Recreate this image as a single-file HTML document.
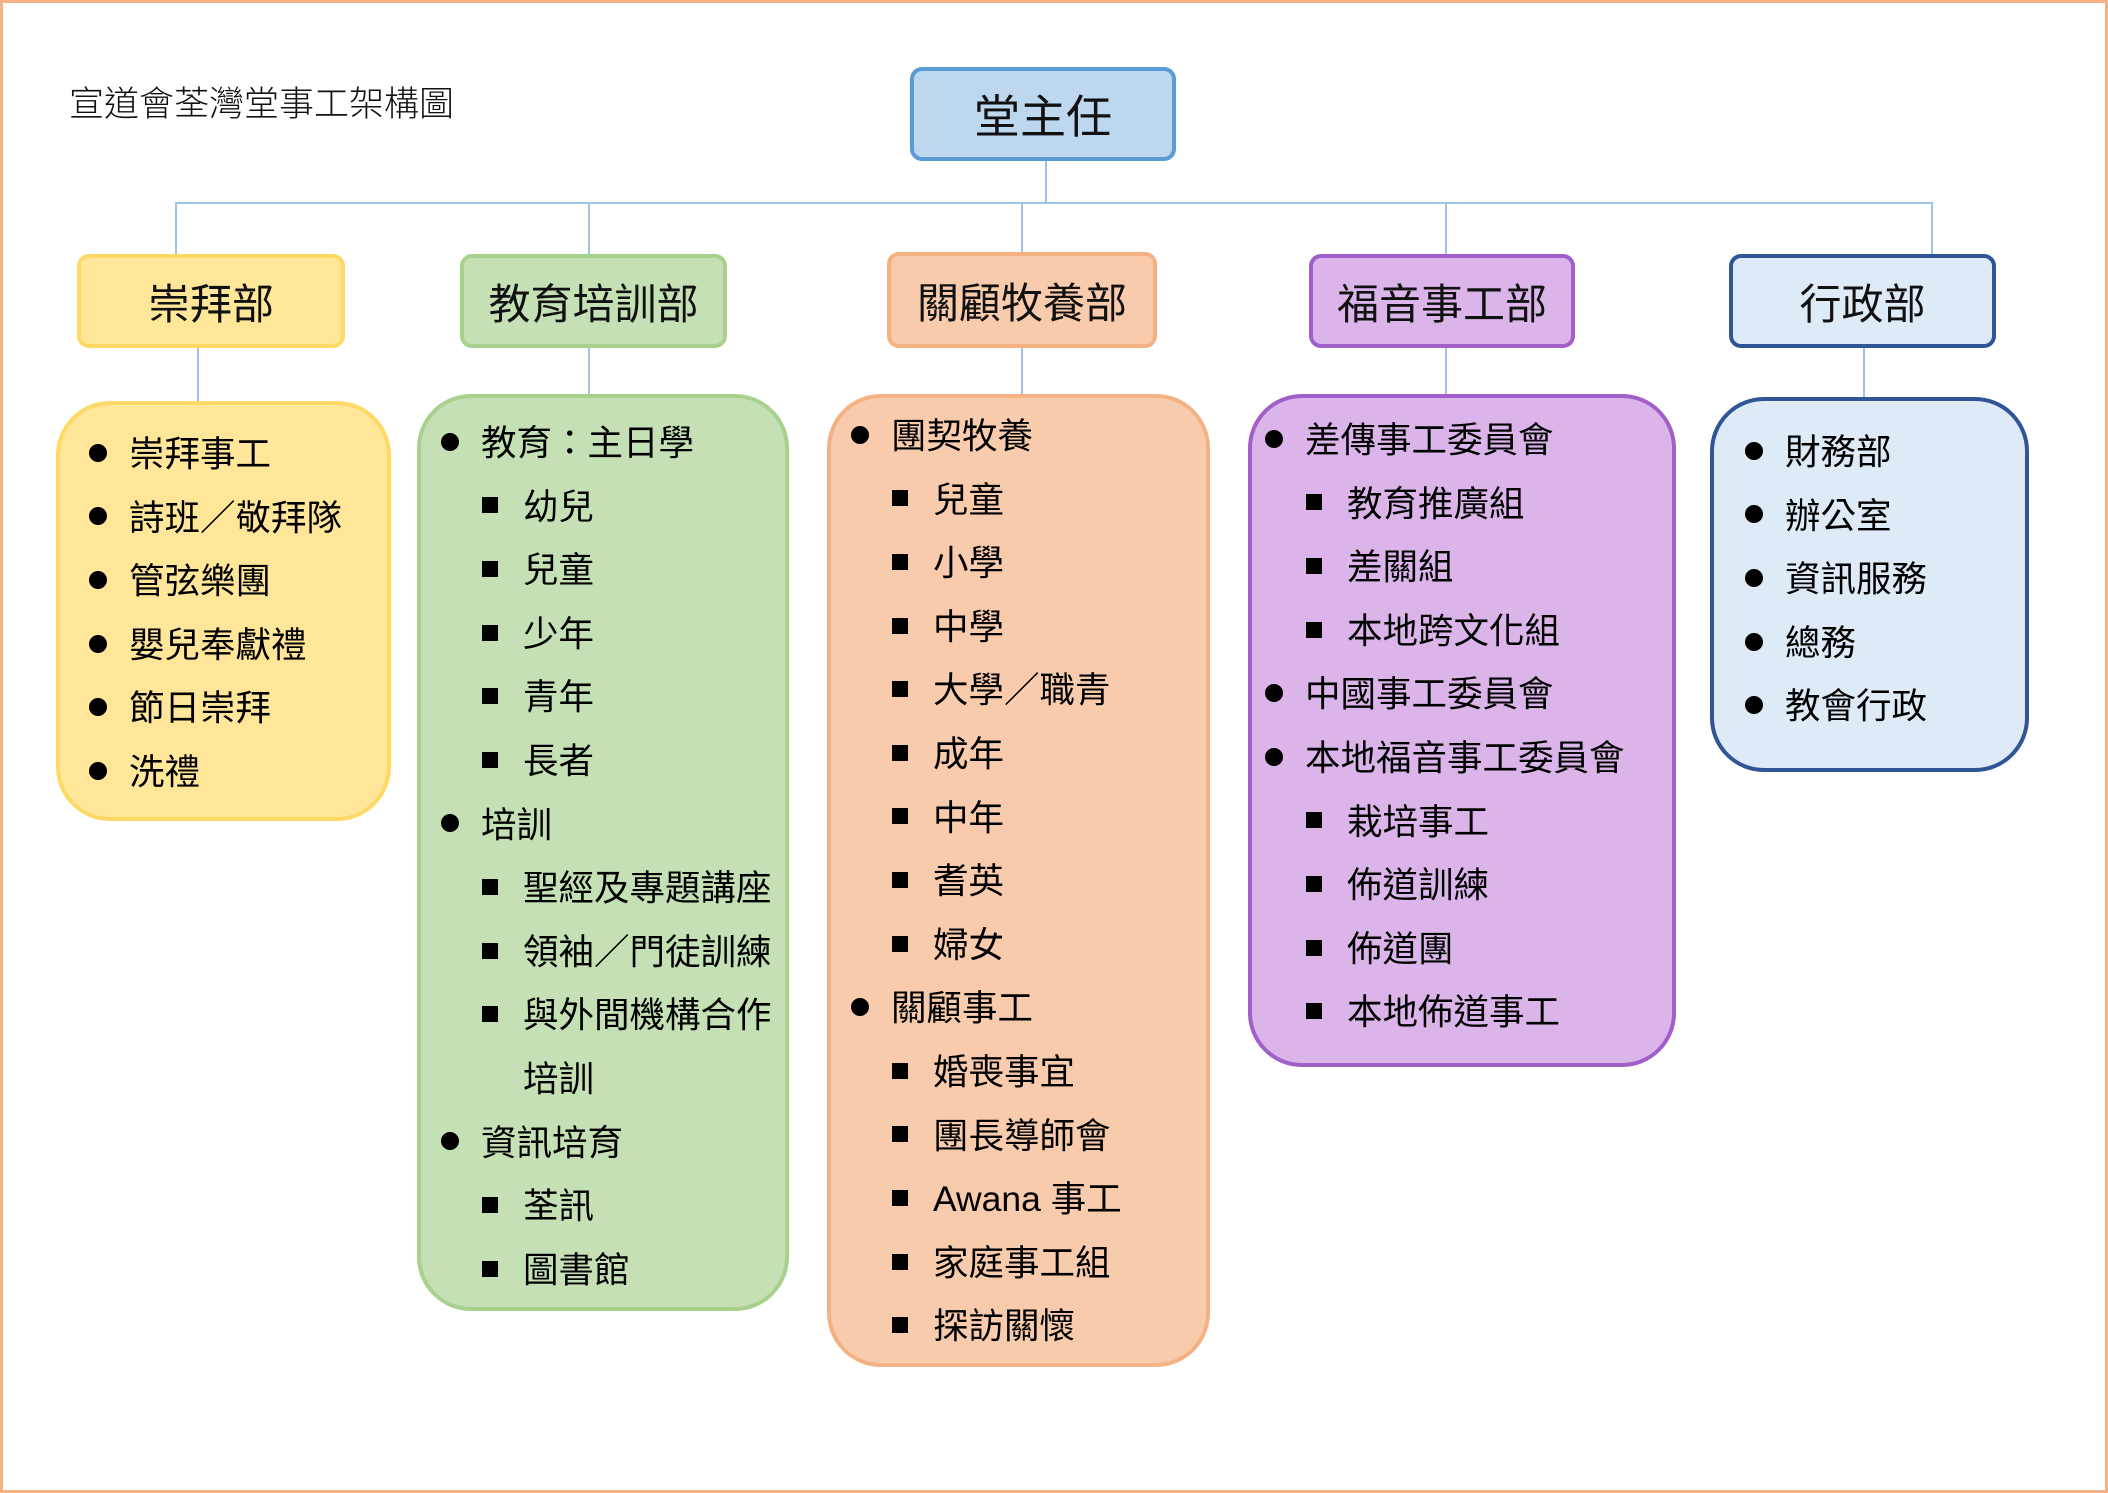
<!DOCTYPE html>
<html><head><meta charset="utf-8"><style>
body{margin:0;width:2108px;height:1493px;overflow:hidden;background:#fff;font-family:"Liberation Sans","Noto Sans CJK TC",sans-serif;}
.frame{position:absolute;left:0;top:0;width:2102px;height:1487px;border:3px solid #f4b183;}
.box{position:absolute;box-sizing:border-box;display:flex;align-items:center;justify-content:center;color:#111;}
.hd{border-width:4px;border-style:solid;border-radius:12px;font-size:42px;}
.bd{border-width:4px;border-style:solid;border-radius:54px;}
.ln{position:absolute;background:#9dc3e6;}
.col{position:absolute;font-size:35.5px;color:#000;}
.l{position:relative;height:63.6px;line-height:63.6px;white-space:nowrap;}
.l i{position:absolute;top:50%;margin-top:-11px;width:18px;height:18px;border-radius:50%;background:#000;left:0;}
.l.s i{left:41px;border-radius:0;width:16px;height:16px;margin-top:-10px;}
.l span{position:absolute;left:40px;top:0;}
.l.s span{left:82px;}
</style></head><body>
<div class="frame"></div>
<div style="position:absolute;left:69px;top:76px;font-size:35px;font-weight:300;color:#111;">宣道會荃灣堂事工架構圖</div>

<div class="ln" style="left:1045px;top:161px;width:2px;height:43px"></div>
<div class="ln" style="left:175px;top:202px;width:1758px;height:2px"></div>
<div class="ln" style="left:175px;top:202px;width:2px;height:52px"></div>
<div class="ln" style="left:588px;top:202px;width:2px;height:52px"></div>
<div class="ln" style="left:1021px;top:202px;width:2px;height:52px"></div>
<div class="ln" style="left:1445px;top:202px;width:2px;height:52px"></div>
<div class="ln" style="left:1931px;top:202px;width:2px;height:52px"></div>
<div class="ln" style="left:197px;top:348px;width:2px;height:53px"></div>
<div class="ln" style="left:588px;top:348px;width:2px;height:46px"></div>
<div class="ln" style="left:1021px;top:348px;width:2px;height:46px"></div>
<div class="ln" style="left:1445px;top:348px;width:2px;height:46px"></div>
<div class="ln" style="left:1863px;top:348px;width:2px;height:49px"></div>

<div class="box hd" style="left:910px;top:67px;width:266px;height:94px;background:#bdd7ee;border-color:#5b9bd5;font-size:46px">堂主任</div>

<div class="box hd" style="left:77px;top:254px;width:268px;height:94px;background:#ffe699;border-color:#ffd966">崇拜部</div>
<div class="box hd" style="left:460px;top:254px;width:267px;height:94px;background:#c5e0b4;border-color:#a9d18e">教育培訓部</div>
<div class="box hd" style="left:887px;top:252px;width:270px;height:96px;background:#f8cbad;border-color:#f4b183">關顧牧養部</div>
<div class="box hd" style="left:1309px;top:254px;width:266px;height:94px;background:#dbb5ea;border-color:#a15fc9">福音事工部</div>
<div class="box hd" style="left:1729px;top:254px;width:267px;height:94px;background:#deebf7;border-color:#2f5597">行政部</div>

<div class="box bd" style="left:56px;top:401px;width:335px;height:420px;background:#ffe699;border-color:#ffd966"></div>
<div class="box bd" style="left:417px;top:394px;width:372px;height:917px;background:#c5e0b4;border-color:#a9d18e"></div>
<div class="box bd" style="left:827px;top:394px;width:383px;height:973px;background:#f8cbad;border-color:#f4b183"></div>
<div class="box bd" style="left:1248px;top:394px;width:428px;height:673px;background:#dbb5ea;border-color:#a15fc9"></div>
<div class="box bd" style="left:1710px;top:397px;width:319px;height:375px;background:#deebf7;border-color:#2f5597"></div>

<div class="col" style="left:89px;top:423px">
<div class="l"><i></i><span>崇拜事工</span></div>
<div class="l"><i></i><span>詩班／敬拜隊</span></div>
<div class="l"><i></i><span>管弦樂團</span></div>
<div class="l"><i></i><span>嬰兒奉獻禮</span></div>
<div class="l"><i></i><span>節日崇拜</span></div>
<div class="l"><i></i><span>洗禮</span></div>
</div>

<div class="col" style="left:441px;top:412px">
<div class="l"><i></i><span>教育：主日學</span></div>
<div class="l s"><i></i><span>幼兒</span></div>
<div class="l s"><i></i><span>兒童</span></div>
<div class="l s"><i></i><span>少年</span></div>
<div class="l s"><i></i><span>青年</span></div>
<div class="l s"><i></i><span>長者</span></div>
<div class="l"><i></i><span>培訓</span></div>
<div class="l s"><i></i><span>聖經及專題講座</span></div>
<div class="l s"><i></i><span>領袖／門徒訓練</span></div>
<div class="l s"><i></i><span>與外間機構合作</span></div>
<div class="l s"><span>培訓</span></div>
<div class="l"><i></i><span>資訊培育</span></div>
<div class="l s"><i></i><span>荃訊</span></div>
<div class="l s"><i></i><span>圖書館</span></div>
</div>

<div class="col" style="left:851px;top:405px">
<div class="l"><i></i><span>團契牧養</span></div>
<div class="l s"><i></i><span>兒童</span></div>
<div class="l s"><i></i><span>小學</span></div>
<div class="l s"><i></i><span>中學</span></div>
<div class="l s"><i></i><span>大學／職青</span></div>
<div class="l s"><i></i><span>成年</span></div>
<div class="l s"><i></i><span>中年</span></div>
<div class="l s"><i></i><span>耆英</span></div>
<div class="l s"><i></i><span>婦女</span></div>
<div class="l"><i></i><span>關顧事工</span></div>
<div class="l s"><i></i><span>婚喪事宜</span></div>
<div class="l s"><i></i><span>團長導師會</span></div>
<div class="l s"><i></i><span>Awana 事工</span></div>
<div class="l s"><i></i><span>家庭事工組</span></div>
<div class="l s"><i></i><span>探訪關懷</span></div>
</div>

<div class="col" style="left:1265px;top:409px">
<div class="l"><i></i><span>差傳事工委員會</span></div>
<div class="l s"><i></i><span>教育推廣組</span></div>
<div class="l s"><i></i><span>差關組</span></div>
<div class="l s"><i></i><span>本地跨文化組</span></div>
<div class="l"><i></i><span>中國事工委員會</span></div>
<div class="l"><i></i><span>本地福音事工委員會</span></div>
<div class="l s"><i></i><span>栽培事工</span></div>
<div class="l s"><i></i><span>佈道訓練</span></div>
<div class="l s"><i></i><span>佈道團</span></div>
<div class="l s"><i></i><span>本地佈道事工</span></div>
</div>

<div class="col" style="left:1745px;top:421px">
<div class="l"><i></i><span>財務部</span></div>
<div class="l"><i></i><span>辦公室</span></div>
<div class="l"><i></i><span>資訊服務</span></div>
<div class="l"><i></i><span>總務</span></div>
<div class="l"><i></i><span>教會行政</span></div>
</div>
</body></html>
